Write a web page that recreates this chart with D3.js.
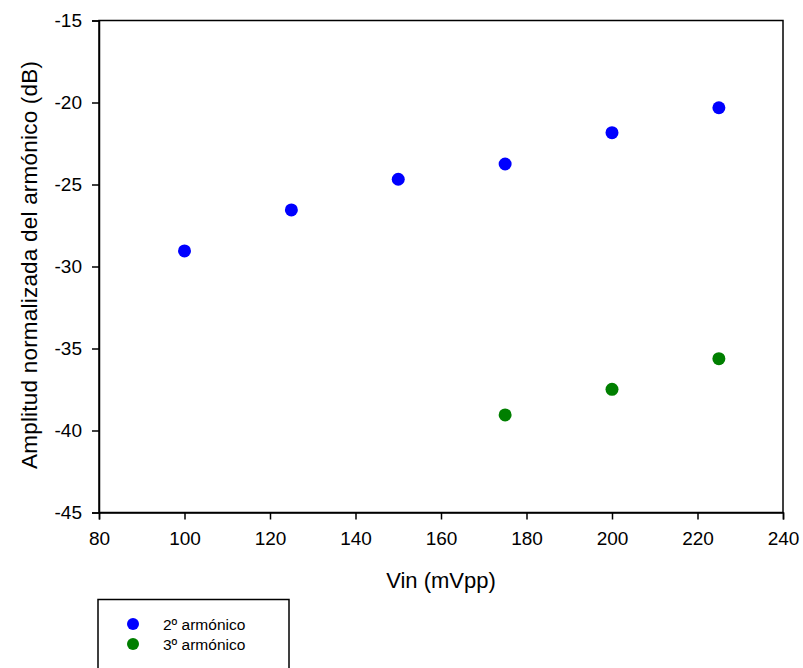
<!DOCTYPE html>
<html>
<head>
<meta charset="utf-8">
<script src="https://cdn.jsdelivr.net/npm/d3@7"></script>
<style>
  body { margin: 0; background: #fff; }
  svg { display: block; font-family: Arial, "Liberation Sans", sans-serif; }
</style>
</head>
<body>
<svg width="803" height="668"></svg>
<script>
// values
const vin2 = [100, 125, 150, 175, 200, 225];
const amp2 = [-29.05, -26.55, -24.68, -23.75, -21.84, -20.32];
const vin3 = [175, 200, 225];
const amp3 = [-39.05, -37.49, -35.62];
const xTicks = [80, 100, 120, 140, 160, 180, 200, 220, 240];
const yTicks = [-45, -40, -35, -30, -25, -20, -15];
const seriesNames = ["2º armónico", "3º armónico"];
const seriesColors = ["#0000ff", "#007f00"];

const svg = d3.select("svg");
const plotL = 99, plotR = 783, plotT = 20.5, plotB = 512.5;

const x = d3.scaleLinear().domain([80, 240]).range([plotL, plotR]);
const y = d3.scaleLinear().domain([-45, -15]).range([plotB, plotT]);

// frame
svg.append("rect")
  .attr("x", plotL).attr("y", plotT)
  .attr("width", plotR - plotL).attr("height", plotB - plotT)
  .attr("fill", "none").attr("stroke", "#000").attr("stroke-width", 1.5);

const xAxis = svg.append("g")
  .attr("transform", `translate(0,${plotB})`)
  .call(d3.axisBottom(x).tickValues(xTicks).tickSize(7).tickPadding(12));
const yAxis = svg.append("g")
  .attr("transform", `translate(${plotL},0)`)
  .call(d3.axisLeft(y).tickValues(yTicks).tickSize(7).tickPadding(10)
    .tickFormat(d => String(d)));

[xAxis, yAxis].forEach(g => {
  g.select(".domain").attr("stroke-width", 1.5);
  g.selectAll(".tick line").attr("stroke-width", 1.5);
  g.selectAll("text").attr("font-size", 19).attr("fill", "#000")
    .attr("font-family", "Arial, 'Liberation Sans', sans-serif");
});

svg.append("text")
  .attr("x", (plotL + plotR) / 2).attr("y", 588)
  .attr("text-anchor", "middle").attr("font-size", 22)
  .text("Vin (mVpp)");

svg.append("text")
  .attr("transform", `translate(37,265) rotate(-90)`)
  .attr("text-anchor", "middle").attr("font-size", 22.5)
  .attr("textLength", 408).attr("lengthAdjust", "spacing")
  .text("Amplitud normalizada del armónico (dB)");

const series = [
  { xs: vin2, ys: amp2 },
  { xs: vin3, ys: amp3 }
];

series.forEach((s, i) => {
  svg.append("g").selectAll("circle")
    .data(s.xs.map((v, j) => [v, s.ys[j]]))
    .enter().append("circle")
    .attr("cx", d => x(d[0]))
    .attr("cy", d => y(d[1]))
    .attr("r", 6.5)
    .attr("fill", seriesColors[i]);
});

// legend
const leg = svg.append("g");
leg.append("rect")
  .attr("x", 98).attr("y", 599.5).attr("width", 191).attr("height", 80)
  .attr("fill", "#fff").attr("stroke", "#000").attr("stroke-width", 1.5);
seriesNames.forEach((name, i) => {
  leg.append("circle").attr("cx", 133).attr("cy", 624 + i * 20)
    .attr("r", 6).attr("fill", seriesColors[i]);
  leg.append("text").attr("x", 163).attr("y", 629.5 + i * 20)
    .attr("font-size", 15.5).text(name);
});
</script>
</body>
</html>
